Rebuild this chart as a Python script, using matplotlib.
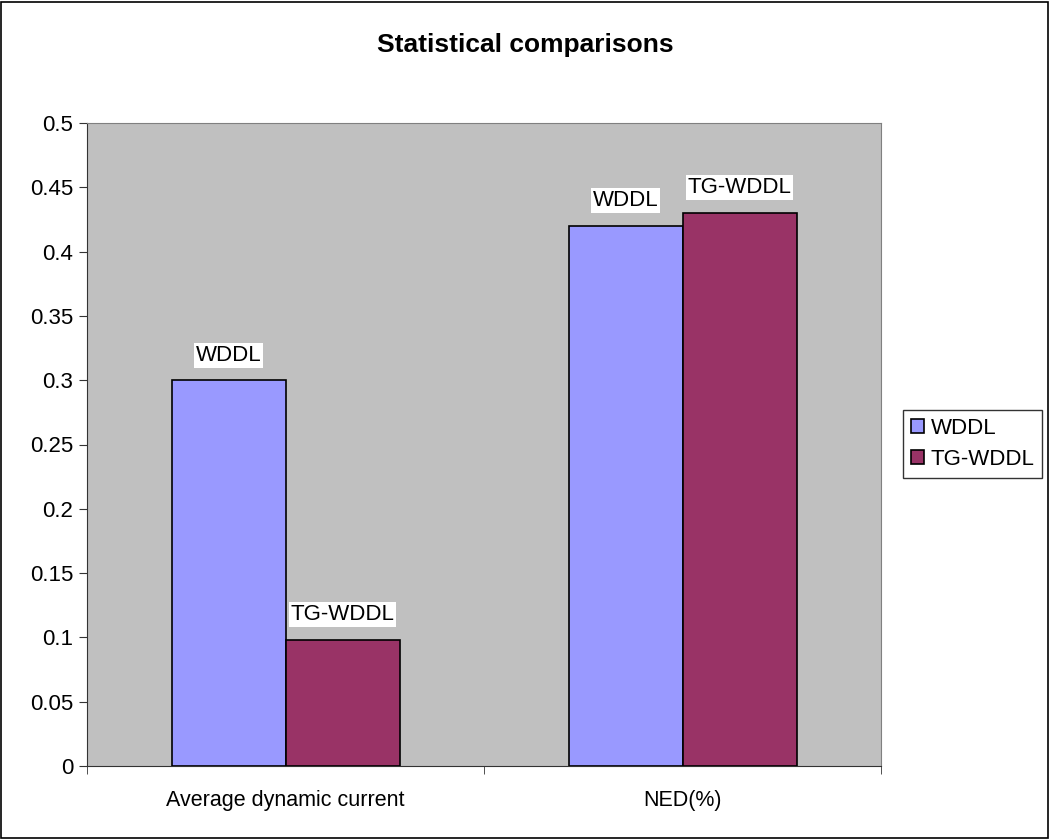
import numpy as np
import matplotlib.pyplot as plt
from matplotlib.patches import Rectangle

plt.rcParams['font.family'] = ['Liberation Sans', 'DejaVu Sans']

categories = ['Average dynamic current', 'NED(%)']
series = ['WDDL', 'TG-WDDL']
wddl = [0.30, 0.42]
tg_wddl = [0.098, 0.43]
colors = ['#9999FF', '#993366']

fig = plt.figure(figsize=(10.5, 8.39), dpi=100)
fig.patches.append(Rectangle((0.001, 0.001), 0.997, 0.997, transform=fig.transFigure,
                             fill=False, edgecolor='black', linewidth=1.2))
ax = fig.add_axes([87/1050, 1 - 766/839, (881-87)/1050, (766-123)/839])
ax.set_facecolor('#C0C0C0')

x = np.arange(len(categories))
w = 114/397
for i, (vals, name) in enumerate(zip([wddl, tg_wddl], series)):
    pos = x + (i - 0.5) * w
    ax.bar(pos, vals, w, color=colors[i], edgecolor='black', linewidth=1.2, label=name, zorder=3)
    for p, v in zip(pos, vals):
        ax.text(p, v + 0.0195, name, ha='center', va='center', fontsize=16,
                bbox=dict(facecolor='white', edgecolor='none', pad=1.5), zorder=4)

ax.set_xlim(-0.5, 1.5)
ax.set_ylim(0, 0.5)
ax.set_yticks(np.arange(0, 0.51, 0.05))
ax.set_yticklabels(['0', '0.05', '0.1', '0.15', '0.2', '0.25', '0.3', '0.35', '0.4', '0.45', '0.5'])
ax.set_xticks(x)
ax.set_xticklabels(categories)
ax.set_xticks([-0.5, 0.5, 1.5], minor=True)
ax.tick_params(axis='x', which='major', length=0, pad=17, labelsize=15.5)
ax.tick_params(axis='x', which='minor', length=6, direction='out', color='#333333')
ax.tick_params(axis='y', length=6, direction='out', labelsize=16, color='#333333', pad=4)
ax.spines['left'].set_color('#333333')
ax.spines['bottom'].set_color('#333333')
ax.spines['top'].set_color('#808080')
ax.spines['right'].set_color('#808080')

fig.text(0.5, 1 - 45/839, 'Statistical comparisons', ha='center', va='center',
         fontsize=19, fontweight='bold')

leg = ax.legend(loc='center left', bbox_to_anchor=(903/1050, 1 - 444/839),
                bbox_transform=fig.transFigure, fontsize=16, frameon=True, fancybox=False,
                edgecolor='black', handlelength=0.6, handleheight=0.6, handletextpad=0.3,
                borderpad=0.35, labelspacing=0.45, borderaxespad=0)
leg.get_frame().set_linewidth(1.0)

plt.savefig('out.png', dpi=100)
